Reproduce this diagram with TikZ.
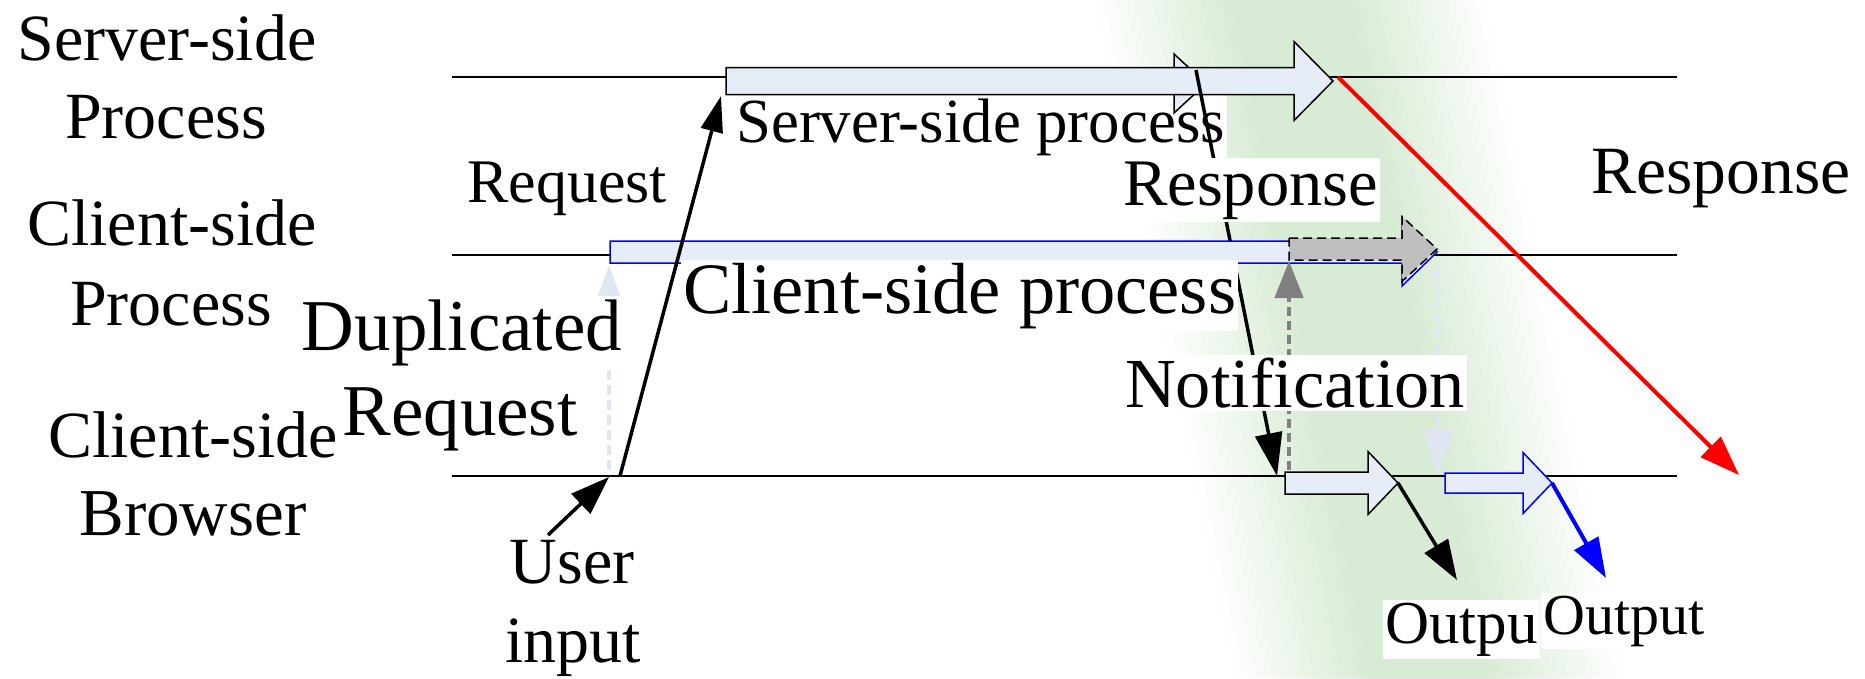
\documentclass[tikz,border=0pt]{standalone}
\usepackage{fontspec}
\setmainfont{Liberation Serif}
\usetikzlibrary{arrows.meta}

\definecolor{palefill}{RGB}{230,237,247}
\definecolor{greyfill}{RGB}{191,191,191}
\definecolor{midgrey}{RGB}{128,128,128}
\definecolor{faintblue}{RGB}{224,231,243}
\definecolor{haze}{RGB}{216,235,212}
\definecolor{pureblue}{RGB}{0,0,255}
\definecolor{purered}{RGB}{255,0,0}

\newcommand\fs[1]{\fontsize{#1pt}{#1pt}\selectfont}
% block arrow: style, x start, x head base, x tip, y centre, half body, half head
\newcommand\blockarrow[7]{%
  \path[#1] (#2,#5-#6) -- (#3,#5-#6) -- (#3,#5-#7) -- (#4,#5)
    -- (#3,#5+#7) -- (#3,#5+#6) -- (#2,#5+#6) -- cycle;}

\begin{document}
\begin{tikzpicture}[x=1pt,y=-1pt,
  lane/.style={line width=1.5pt},
  blk/.style={draw=black,line width=1.5pt,fill=palefill,line join=miter},
  blkblue/.style={blk,draw=pureblue},
  conn/.style={line width=3.5pt,-{Triangle[length=40pt,width=27pt]}},
  lbl/.style={inner sep=0pt,anchor=base},
  lblw/.style={lbl,fill=white,inner xsep=2pt,inner ysep=3pt},
]
\useasboundingbox (0,0) rectangle (1865,678);

% slanted watermark haze band, built from nested bands
\foreach \k in {0,...,20}{
  \pgfmathsetmacro\hw{200-7*\k}
  \pgfmathtruncatemacro\pc{5*\k}
  \fill[haze!\pc!white] (1290-\hw,0) -- (1290+\hw,0)
    -- (1430+\hw,678) -- (1430-\hw,678) -- cycle;
}

% time lines
\draw[lane] (452,77) -- (1677,77);
\draw[lane] (452,255) -- (1677,255);
\draw[lane] (452,476) -- (1677,476);

% lane titles
\node[lbl] (srvA) at (167,60) {\fs{66}Server-side};
\node[lbl] (srvB) at (166,138) {\fs{66}Process};
\node[lbl] (cliA) at (172,245) {\fs{66}Client-side};
\node[lbl] (cliB) at (171,325) {\fs{66}Process};
\node[lbl] (brwA) at (193,457) {\fs{66}Client-side};
\node[lbl] (brwB) at (193,535) {\fs{67}Browser};

% server side
\node[lblw,anchor=base west] (sproc) at (734,142) {\fs{62.8}Server-side process};
\path[blk] (1174,54) -- (1206,83.5) -- (1174,113) -- cycle;
\blockarrow{blk}{726}{1294}{1333}{81}{13.5}{39.5}
\coordinate (srvTail) at (721,96);
\coordinate (srvTip) at (1338,77);
\coordinate (respStart) at (1196,70);
\coordinate (notifyTip) at (1277,476);
\draw[conn,-{Triangle[length=43pt,width=27pt]}] (respStart) -- (notifyTip);

% client side
\blockarrow{blkblue}{610}{1402}{1437}{252}{11}{34}
\blockarrow{blk,fill=greyfill,dash pattern=on 9pt off 5pt}{1289}{1402}{1437}{249}{11}{32.5}

% browser side
\blockarrow{blk}{1285}{1368}{1398}{483}{11}{31.5}
\blockarrow{blkblue}{1445}{1523}{1552}{483}{10}{30.5}

% dotted hand-offs
\coordinate (dupFoot) at (609,470);
\coordinate (dupTip) at (609,265);
\draw[faintblue,line width=4pt,dash pattern=on 10pt off 5pt,
  -{Triangle[length=32pt,width=22pt]}] (dupFoot) -- (dupTip);
\coordinate (notFoot) at (1289,470);
\coordinate (notTip) at (1289,261);
\draw[midgrey,line width=4.5pt,dash pattern=on 9pt off 5pt,
  -{Triangle[length=37pt,width=28pt]}] (notFoot) -- (notTip);
\coordinate (updTop) at (1438,268);
\coordinate (updTip) at (1438,475);
\draw[faintblue,line width=4pt,dash pattern=on 10pt off 5pt,
  -{Triangle[length=45pt,width=31pt]}] (updTop) -- (updTip);

% labels with white backing
\node[lblw,anchor=base west] (cproc) at (681,313) {\fs{72.4}Client-side process};
\node[lblw] (dupA) at (462,350) {\fs{73}Duplicated};
\node[lblw] (dupB) at (460,435) {\fs{73}Request};
\node[lblw,anchor=base west] (resp) at (1121,205) {\fs{66.5}Response};
\node[lblw,anchor=base west] (notif) at (1123,407) {\fs{70.3}Notification};

% request from the browser
\coordinate (reqFoot) at (620,476);
\draw[line width=3.5pt,-{Triangle[length=36pt,width=22pt]}] (reqFoot) -- (srvTail);
\node[lbl,anchor=base west] (req) at (467,202) {\fs{62}Request};

% user input
\coordinate (userFoot) at (548,535);
\coordinate (userTip) at (609,477);
\draw[conn,-{Triangle[length=39pt,width=27pt]}] (userFoot) -- (userTip);
\node[lbl] (user) at (572,583) {\fs{66}User};
\node[lbl] (inp) at (573,662) {\fs{66}input};

% responses and outputs
\coordinate (respEnd) at (1739,475);
\draw[purered,line width=4pt,-{Triangle[length=40pt,width=28pt]}] (srvTip) -- (respEnd);
\node[lbl,anchor=base west] (resp2) at (1591,193) {\fs{67.6}Response};

\coordinate (outA0) at (1398,483);
\coordinate (outA1) at (1457,580);
\draw[conn] (outA0) -- (outA1);
\coordinate (outB0) at (1552,483);
\coordinate (outB1) at (1606,578);
\draw[pureblue,line width=4pt,-{Triangle[length=40pt,width=27pt]}] (outB0) -- (outB1);
\node[lblw,anchor=base west] (outA) at (1383,643) {\fs{61}Outpu};
\node[lblw,anchor=base west] (outB) at (1541,634) {\fs{58}Output};
\end{tikzpicture}
\end{document}
